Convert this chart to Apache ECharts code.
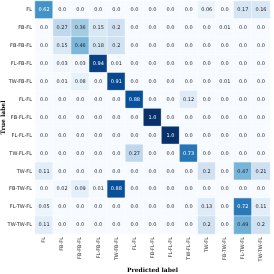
<!DOCTYPE html>
<html><head><meta charset="utf-8">
<script src="https://cdn.jsdelivr.net/npm/echarts@6/dist/echarts.min.js"></script>
<style>html,body{margin:0;padding:0;background:#fff}#c{width:274px;height:274px}</style>
</head><body><div id="c"></div>
<script>
const categories = ["FL","FB-FL","FB-FB-FL","FL-FB-FL","TW-FB-FL","FL-FL","FB-FL-FL","FL-FL-FL","TW-FL-FL","TW-FL","FB-TW-FL","FL-TW-FL","TW-TW-FL"];
const row_FL       = [0.62,0,0,0,0,0,0,0,0,0.06,0,0.17,0.16];
const row_FB_FL    = [0,0.27,0.36,0.15,0.2,0,0,0,0,0,0.01,0,0];
const row_FB_FB_FL = [0,0.15,0.46,0.18,0.2,0,0,0,0,0,0,0,0];
const row_FL_FB_FL = [0,0.03,0.03,0.94,0.01,0,0,0,0,0,0,0,0];
const row_TW_FB_FL = [0,0.01,0.08,0,0.91,0,0,0,0,0,0.01,0,0];
const row_FL_FL    = [0,0,0,0,0,0.88,0,0,0.12,0,0,0,0];
const row_FB_FL_FL = [0,0,0,0,0,0,1.0,0,0,0,0,0,0];
const row_FL_FL_FL = [0,0,0,0,0,0,0,1.0,0,0,0,0,0];
const row_TW_FL_FL = [0,0,0,0,0,0.27,0,0,0.73,0,0,0,0];
const row_TW_FL    = [0.11,0,0,0,0,0,0,0,0,0.2,0,0.47,0.21];
const row_FB_TW_FL = [0,0.02,0.09,0.01,0.88,0,0,0,0,0,0,0,0];
const row_FL_TW_FL = [0.05,0,0,0,0,0,0,0,0,0.13,0,0.72,0.11];
const row_TW_TW_FL = [0.11,0,0,0,0,0,0,0,0,0.2,0,0.49,0.2];
const matrix = [row_FL,row_FB_FL,row_FB_FB_FL,row_FL_FB_FL,row_TW_FB_FL,row_FL_FL,row_FB_FL_FL,row_FL_FL_FL,row_TW_FL_FL,row_TW_FL,row_FB_TW_FL,row_FL_TW_FL,row_TW_TW_FL];

const data = [];
matrix.forEach((row, i) => row.forEach((v, j) => {
  data.push({value: [j, i, v], label: {color: v > 0.5 ? '#ffffff' : '#262626'}});
}));
function fmt(v){ return Number.isInteger(v) ? v.toFixed(1) : String(v); }

const chart = echarts.init(document.getElementById('c'), null, {renderer:'canvas'});
chart.setOption({
  animation: false,
  grid: {left: 35, top: 1, width: 235, height: 233, containLabel: false, outerBoundsMode: 'none'},
  xAxis: {
    type: 'category', data: categories,
    name: 'Predicted label', nameLocation: 'middle', nameGap: 33, nameMoveOverlap: false,
    nameTextStyle: {fontFamily: 'DejaVu Serif', fontWeight: 'bold', fontSize: 6, color: '#000'},
    axisLine: {show: false}, axisTick: {show: false},
    axisLabel: {rotate: 90, fontSize: 5, fontFamily: 'DejaVu Sans', color: '#262626', margin: 3, interval: 0},
    splitArea: {show: false}
  },
  yAxis: {
    type: 'category', data: categories, inverse: true,
    name: 'True label', nameLocation: 'middle', nameGap: 29, nameRotate: 90, nameMoveOverlap: false,
    nameTextStyle: {fontFamily: 'DejaVu Serif', fontWeight: 'bold', fontSize: 6, color: '#000'},
    axisLine: {show: false}, axisTick: {show: false},
    axisLabel: {fontSize: 5, fontFamily: 'DejaVu Sans', color: '#262626', margin: 3, interval: 0}
  },
  visualMap: {
    show: false, min: 0, max: 1, dimension: 2,
    inRange: {color: ['#f7fbff','#deebf7','#c6dbef','#9ecae1','#6baed6','#4292c6','#2171b5','#08519c','#08306b']}
  },
  series: [{
    type: 'heatmap', data: data,
    itemStyle: {borderColor: '#ffffff', borderWidth: 0.5},
    label: {show: true, fontSize: 5, fontFamily: 'DejaVu Sans', formatter: p => fmt(p.value[2])},
    emphasis: {disabled: true}
  }]
});
</script></body></html>
